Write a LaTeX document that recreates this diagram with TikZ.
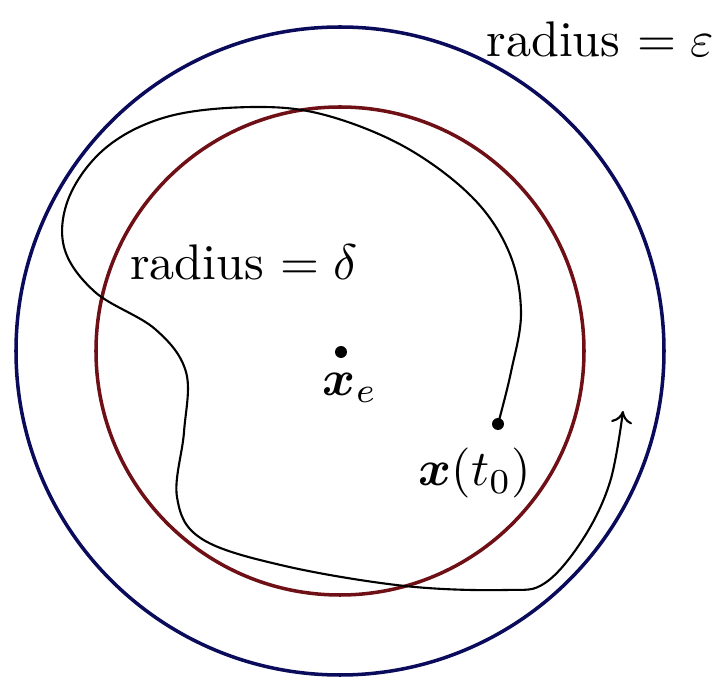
\documentclass[tikz,border=0pt]{standalone}
\usepackage{amsmath}
\usetikzlibrary{arrows.meta}

\definecolor{lyOuterStroke}{HTML}{0B0B5C}
\definecolor{lyInnerStroke}{HTML}{6E1016}
\newcommand{\biglab}[1]{\scalebox{2.85}{#1}}

\begin{document}
\begin{tikzpicture}[x=0.02cm,y=0.02cm,
    eqdot/.style={circle,fill=black,inner sep=0pt,minimum size=0.24cm},
    traj/.style={black,line width=1.2pt,-{To[length=7pt,width=12pt]}}]
  \useasboundingbox (0,0) rectangle (718,677);

  % ---- the two balls ----
  \draw[lyOuterStroke,line width=2pt] (340,326) circle [radius=324];
  \draw[lyInnerStroke,line width=2pt] (340,326) circle [radius=244];

  % ---- points ----
  \node[eqdot] (xe)  at (341,325) {};
  \node[eqdot] (xt0) at (498,253) {};
  \coordinate (tip) at (623,266);

  % ---- labels ----
  \node (labEps)   at (600,638) {\biglab{radius $=\varepsilon$}};
  \node (labDelta) at (244,415) {\biglab{radius $=\delta$}};
  \node (labXe)    at (350,289) {\biglab{$\boldsymbol{x}_e$}};
  \node (labXt0)   at (475,204) {\biglab{$\boldsymbol{x}(t_0)$}};

  % ---- trajectory ----
  \draw[traj] plot[smooth,tension=0.6] coordinates {
      (xt0.center) (511,305) (521,365) (509,425) (472,480) (405,530)
      (325,562) (255,570) (170,561) (108,531) (70,482) (64,430)
      (95,385) (155,348) (186,305) (184,245) (177,180) (202,138)
      (285,111) (405,91) (505,87) (545,94) (583,138) (610,195)
      (tip)};
\end{tikzpicture}
\end{document}
